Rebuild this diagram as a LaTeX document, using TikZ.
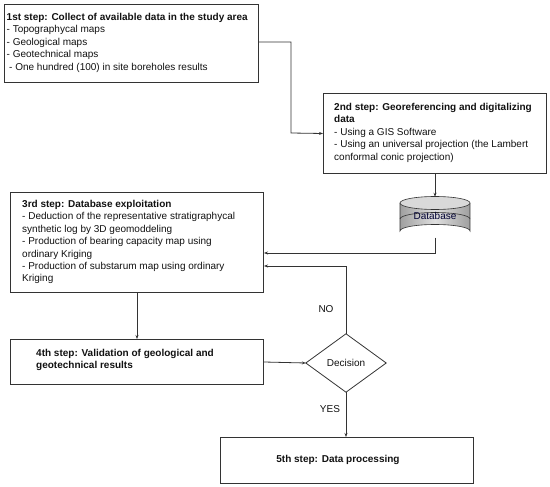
\documentclass[tikz,border=0pt]{standalone}
\usepackage{fontspec}
\setmainfont{Liberation Sans}
\usetikzlibrary{arrows.meta}
\definecolor{lineC}{HTML}{333333}
\definecolor{txtC}{HTML}{111111}
\begin{document}
\begin{tikzpicture}[x=1pt,y=-1pt,
  stepbox/.style={draw=lineC,line width=1pt,rectangle,inner sep=0pt,anchor=north west},
  steptext/.style={inner sep=0pt,anchor=north west,align=left,text=txtC,font=\fontsize{10}{12.4}\selectfont},
  conn/.style={draw=lineC,line width=0.8pt},
  arr/.style={conn,-{Stealth[length=4pt,width=3pt]}},
  lbl/.style={inner sep=0pt,text=txtC,font=\fontsize{10}{12}\selectfont}
]
\useasboundingbox (0,0) rectangle (550,487);

% boxes
\node[stepbox,minimum width=254pt,minimum height=78pt] (b1) at (4,4) {};
\node[steptext] (t1) at (6.5,13) {\textbf{1st step: Collect of available data in the study area}\\
- Topographycal maps\\
- Geological maps\\
- Geotechnical maps\\
\hspace*{2.5pt}- One hundred (100) in site boreholes results};

\node[stepbox,minimum width=223pt,minimum height=80pt] (b2) at (323,93) {};
\node[steptext] (t2) at (334,103) {\textbf{2nd step: Georeferencing and digitalizing}\\
\textbf{data}\\
- Using a GIS Software\\
- Using an universal projection (the Lambert\\
conformal conic projection)};

\node[stepbox,minimum width=253pt,minimum height=100pt] (b3) at (10,192) {};
\node[steptext] (t3) at (22,200) {\textbf{3rd step: Database exploitation}\\
- Deduction of the representative stratigraphycal\\
synthetic log by 3D geomoddeling\\
- Production of bearing capacity map using\\
ordinary Kriging\\
- Production of substarum map using ordinary\\
Kriging};

\node[stepbox,minimum width=253pt,minimum height=45pt] (b4) at (10,339) {};
\node[steptext] (t4) at (36,349) {\textbf{4th step: Validation of geological and}\\
\textbf{geotechnical results}};

\node[stepbox,minimum width=253pt,minimum height=46pt] (b5) at (220,437) {};
\node[lbl,font=\fontsize{10}{12}\selectfont\bfseries] (t5) at (338,460) {5th step: Data processing};

% decision
\node[lbl,minimum width=80pt,minimum height=58pt] (dec) at (346,363) {Decision};
\draw[draw=lineC,line width=0.8pt] (dec.north) -- (dec.east) -- (dec.south) -- (dec.west) -- cycle;

% database cylinder
\node[inner sep=0pt,minimum width=70pt,minimum height=40.5pt] (db) at (435,217.25) {};
\shade[left color=gray!75,right color=gray!75,middle color=gray!25]
  (400,203) -- (400,231) arc[start angle=180,end angle=360,x radius=35,y radius=6.5] -- (470,203) -- cycle;
\draw[lineC,line width=0.6pt] (400,219) arc[start angle=180,end angle=360,x radius=35,y radius=6.5];
\draw[lineC,line width=0.6pt] (400,203) -- (400,231) arc[start angle=180,end angle=360,x radius=35,y radius=6.5] -- (470,203);
\draw[lineC,line width=0.6pt,fill=gray!30] (435,203) ellipse[x radius=35,y radius=6.5];
\node[lbl,text=black!80!blue] (dbt) at (435,215.5) {Database};

% connectors
\coordinate (c1) at (291,42);
\draw[arr] (b1.east |- c1) -| (291,133) -- (b2.west);
\draw[arr] (b2.south) -- (db.north);
\draw[arr] (db.south) -- (435,253) -- (b3.east |- 0,253);
\draw[arr] (dec.north) -- (346,266) -- (b3.east |- 0,266);
\draw[arr] (b3.south) -- (b4.north);
\draw[arr] (b4.east) -- (dec.west);
\draw[arr] (dec.south) -- (b5.north -| dec.south);

\node[lbl] (no) at (326,309) {NO};
\node[lbl] (yes) at (330,409) {YES};
\end{tikzpicture}
\end{document}
